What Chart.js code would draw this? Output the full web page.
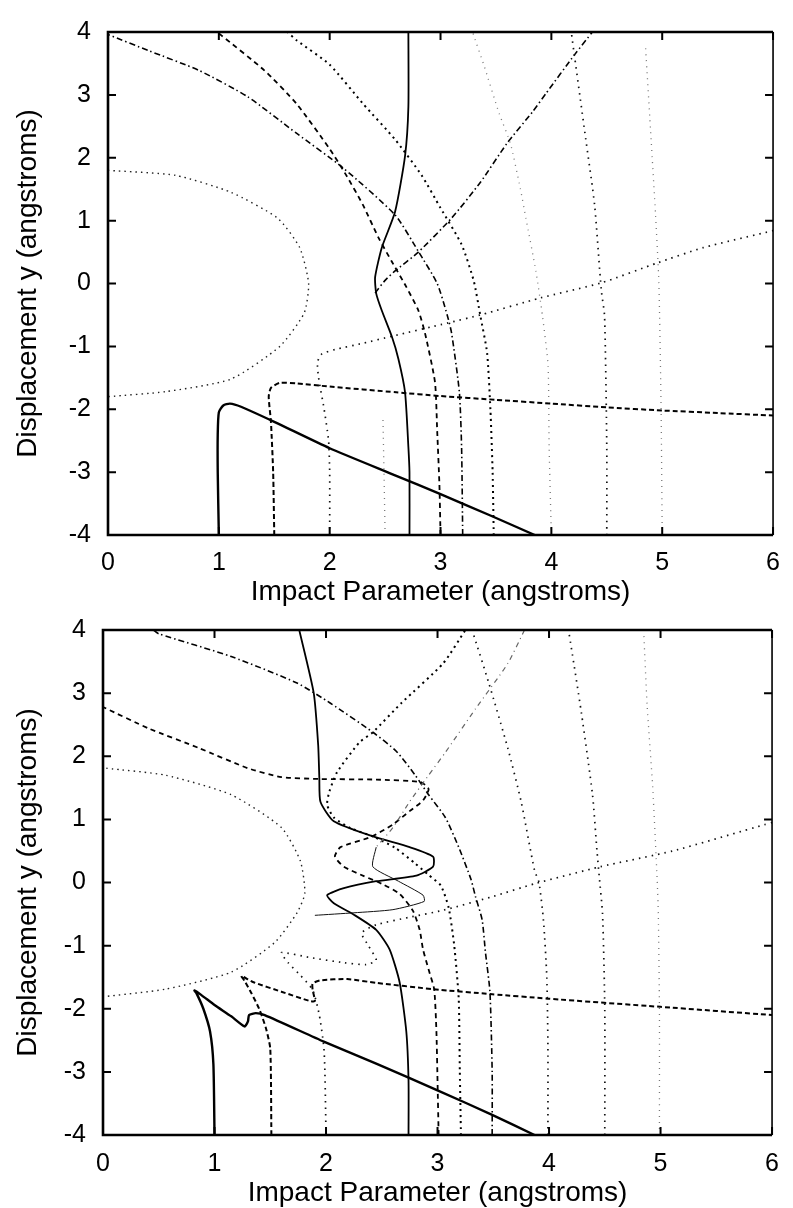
<!DOCTYPE html>
<html>
<head>
<meta charset="utf-8">
<title>Trajectories vs impact parameter</title>
<script src="https://cdn.jsdelivr.net/npm/chart.js@4.4.1/dist/chart.umd.min.js"></script>
<style>
  html, body { margin: 0; padding: 0; background: #fff; overflow: hidden; }
  #wrap { position: relative; width: 793px; height: 1208px; }
  canvas { position: absolute; left: 0; }
  #topChart { top: 0; }
  #bottomChart { top: 598px; }
</style>
</head>
<body>
<div id="wrap">
  <canvas id="topChart" width="793" height="620"></canvas>
  <canvas id="bottomChart" width="793" height="620"></canvas>
</div>
<script>
// axis ticks
const xTicks = [0, 1, 2, 3, 4, 5, 6];
const yTicks = [-4, -3, -2, -1, 0, 1, 2, 3, 4];

// ---- upper panel: trajectories as [x, y] pairs ----
const top_b10 = [[1.0,-4],[0.99,-3],[0.99,-2.4],[1.0,-2.05],[1.04,-1.94],[1.1,-1.91],[1.2,-1.96],[1.5,-2.2],[2.0,-2.62],[2.59,-3.05],[3.0,-3.35],[3.45,-3.69],[3.85,-4]];
const top_b15 = [[1.5,-4],[1.49,-3],[1.47,-2.2],[1.45,-1.8],[1.47,-1.66],[1.55,-1.58],[1.7,-1.59],[2.0,-1.64],[2.6,-1.73],[3.0,-1.79],[3.5,-1.85],[4.0,-1.91],[4.5,-1.97],[5.0,-2.02],[5.5,-2.06],[6.0,-2.1]];
const top_b20 = [[2.0,-4],[2.0,-3],[1.99,-2.5],[1.95,-2.0],[1.9,-1.5],[1.89,-1.25],[1.93,-1.12],[2.05,-1.05],[2.3,-0.95],[2.56,-0.84],[3.06,-0.63],[3.36,-0.5],[3.9,-0.23],[4.45,0.01],[4.96,0.33],[5.37,0.57],[6.0,0.84]];
const top_b25_in = [[2.5,-4],[2.49,-3],[2.48,-2.1]];
const top_b25_out = [[2.41,-0.15],[2.5,0.05],[2.59,0.2],[2.8,0.5],[3.1,1.04],[3.36,1.61],[3.6,2.23],[3.83,2.73],[3.95,3.02],[4.21,3.64],[4.37,4]];
const top_b27 = [[2.72,-4],[2.72,-3],[2.71,-2.6],[2.68,-1.73],[2.62,-1.2],[2.56,-0.84],[2.47,-0.43],[2.42,-0.16],[2.41,0.1],[2.47,0.57],[2.59,1.14],[2.68,2.03],[2.71,2.81],[2.71,4]];
const top_b30 = [[3.0,-4],[2.99,-3.2],[2.97,-2.35],[2.95,-1.57],[2.86,-0.79],[2.8,-0.43],[2.69,-0.05],[2.56,0.35],[2.44,0.73],[2.3,1.25],[2.15,1.72],[2.0,2.14],[1.7,2.86],[1.41,3.39],[1.02,3.95],[0.98,4]];
const top_b32 = [[3.2,-4],[3.19,-2.6],[3.17,-1.73],[3.1,-0.79],[3.06,-0.5],[2.97,0.0],[2.8,0.51],[2.59,1.09],[2.12,1.84],[1.7,2.39],[1.26,2.97],[0.82,3.39],[0.37,3.7],[0,3.96]];
const top_b35 = [[3.48,-4],[3.47,-3],[3.45,-2.0],[3.42,-1.1],[3.36,-0.52],[3.3,0.04],[3.19,0.62],[3.0,1.2],[2.83,1.72],[2.59,2.29],[2.3,2.86],[2.0,3.48],[1.7,3.87],[1.62,4]];
const top_b40 = [[4.0,-4],[3.98,-2.62],[3.97,-1.3],[3.92,-0.52],[3.86,0.2],[3.77,1.04],[3.72,1.51],[3.63,2.23],[3.53,2.7],[3.39,3.48],[3.3,3.94],[3.29,4]];
const top_b45 = [[4.5,-4],[4.5,-2.62],[4.48,-0.52],[4.45,-0.1],[4.39,1.25],[4.31,2.3],[4.19,3.86],[4.18,4]];
const top_b50 = [[5.0,-4],[4.99,-2],[4.97,0],[4.94,1.09],[4.9,2.29],[4.85,3.75]];
const top_ring = [[0,1.8],[0.61,1.72],[1.11,1.45],[1.53,1.04],[1.73,0.57],[1.81,0.0],[1.77,-0.47],[1.55,-1.0],[1.11,-1.52],[0.52,-1.72],[0,-1.8]];

// ---- lower panel ----
const bot_b10 = [[1.0,-4],[0.99,-2.88],[0.96,-2.36],[0.9,-2.0],[0.84,-1.76],[0.82,-1.71],[0.88,-1.78],[1.0,-1.94],[1.15,-2.12],[1.27,-2.28],[1.3,-2.2],[1.31,-2.1],[1.37,-2.07],[1.45,-2.1],[1.98,-2.52],[2.45,-2.87],[3.01,-3.3],[3.49,-3.68],[3.87,-4]];
const bot_b15 = [[1.51,-4],[1.5,-2.63],[1.46,-2.3],[1.4,-2.0],[1.33,-1.75],[1.27,-1.56],[1.24,-1.48],[1.35,-1.58],[1.6,-1.73],[1.86,-1.88],[1.9,-1.88],[1.88,-1.7],[1.88,-1.6],[1.95,-1.55],[2.19,-1.53],[2.45,-1.59],[2.96,-1.69],[3.49,-1.77],[3.99,-1.84],[5.0,-1.97],[6.0,-2.1]];
const bot_b20 = [[2.0,-4],[1.99,-3.0],[1.98,-2.6],[1.94,-2.1],[1.88,-1.7],[1.77,-1.47],[1.66,-1.27],[1.6,-1.11],[1.86,-1.19],[2.16,-1.27],[2.36,-1.3],[2.45,-1.23],[2.38,-1.0],[2.32,-0.8],[2.45,-0.67],[2.75,-0.55],[3.05,-0.44],[3.5,-0.22],[3.87,-0.02],[4.46,0.25],[5.11,0.5],[5.94,0.92],[6.0,0.95]];
const bot_b274 = [[2.74,-4],[2.74,-3.14],[2.72,-2.36],[2.66,-1.58],[2.57,-1.06],[2.45,-0.75],[2.25,-0.51],[2.07,-0.33],[2.01,-0.2],[2.16,-0.09],[2.45,0.02],[2.81,0.11],[2.96,0.25],[2.96,0.41],[2.75,0.56],[2.42,0.73],[2.07,0.97],[1.95,1.28],[1.94,1.66],[1.93,2.17],[1.89,3.0],[1.76,4]];
const bot_thin = [[2.45,0.56],[2.42,0.25],[2.65,0.02],[2.87,-0.2],[2.88,-0.3],[2.6,-0.43],[2.25,-0.48],[1.9,-0.52]];
const bot_fan = [[3.78,4],[3.63,3.47],[3.34,2.75],[3.07,2.06],[2.92,1.7],[2.75,1.28],[2.6,0.87],[2.45,0.56]];
const bot_b30 = [[3.01,-4],[3.0,-3.14],[2.99,-2.36],[2.97,-1.69],[2.92,-1.38],[2.87,-1.06],[2.84,-0.75],[2.78,-0.45],[2.66,-0.18],[2.5,-0.02],[2.34,0.1],[2.16,0.25],[2.08,0.41],[2.13,0.56],[2.4,0.72],[2.6,0.92],[2.75,1.13],[2.87,1.3],[2.92,1.48],[2.85,1.59],[2.45,1.63],[1.94,1.64],[1.6,1.67],[1.3,1.81],[0.86,2.13],[0.41,2.44],[0,2.78]];
const bot_b32 = [[3.21,-4],[3.2,-3.0],[3.19,-1.84],[3.15,-1.0],[3.1,-0.4],[3.03,-0.05],[2.92,0.12],[2.8,0.3],[2.62,0.55],[2.42,0.73],[2.22,0.86],[2.07,1.03],[2.01,1.23],[2.03,1.44],[2.1,1.75],[2.3,2.22],[2.42,2.38],[2.68,2.85],[3.05,3.47],[3.25,4]];
const bot_b35 = [[3.49,-4],[3.49,-3],[3.47,-1.73],[3.43,-1.11],[3.4,-0.59],[3.34,-0.22],[3.3,0.05],[3.19,0.56],[3.07,1.03],[2.92,1.39],[2.8,1.7],[2.63,2.08],[2.42,2.38],[2.04,2.84],[1.74,3.16],[1.15,3.58],[0.5,3.94],[0.45,4]];
const bot_b40 = [[3.99,-4],[3.99,-2.6],[3.98,-1.5],[3.95,-0.6],[3.91,0.0],[3.87,0.19],[3.75,1.28],[3.63,2.13],[3.46,3.16],[3.31,4]];
const bot_b45 = [[4.5,-4],[4.5,-2],[4.48,-0.5],[4.45,0.1],[4.43,0.5],[4.39,1.39],[4.29,2.69],[4.18,3.94],[4.17,4]];
const bot_b50 = [[4.99,-4],[4.99,-2],[4.98,-0.5],[4.97,0.03],[4.93,1.5],[4.88,2.8],[4.85,3.94]];
const bot_ring = [[0.03,1.81],[0.56,1.7],[1.15,1.39],[1.6,0.87],[1.77,0.34],[1.81,-0.17],[1.74,-0.48],[1.54,-0.95],[1.15,-1.42],[0.56,-1.69],[0,-1.81]];

// line styles
const ST = {
  heavy:   { color: '#000', width: 2.4, dash: [] },
  solid:   { color: '#000', width: 1.8, dash: [] },
  thin:    { color: '#111', width: 1.0, dash: [] },
  dashed:  { color: '#000', width: 2.0, dash: [5, 3] },
  dashed2: { color: '#000', width: 1.8, dash: [5, 4] },
  dashDot: { color: '#000', width: 1.6, dash: [6, 3, 1.5, 3] },
  dotDark: { color: '#000', width: 2.0, dash: [2, 4] },
  dotted:  { color: '#111', width: 1.7, dash: [1.5, 5] },
  ring:    { color: '#222', width: 1.4, dash: [1.5, 4] },
  faint:   { color: '#777', width: 1.3, dash: [1, 5] },
  faintDD: { color: '#666', width: 1.2, dash: [5, 4, 1, 4] }
};

const topSeries = [
  [top_ring, ST.ring], [top_b50, ST.faint], [top_b45, ST.dotted], [top_b40, ST.faint],
  [top_b25_in, ST.faint], [top_b25_out, ST.dashDot], [top_b35, ST.dotDark],
  [top_b32, ST.dashDot], [top_b30, ST.dashed2], [top_b27, ST.solid],
  [top_b20, ST.dotted], [top_b15, ST.dashed], [top_b10, ST.heavy]
];
const bottomSeries = [
  [bot_ring, ST.ring], [bot_b50, ST.faint], [bot_b45, ST.dotted], [bot_b40, ST.dotted],
  [bot_fan, ST.faintDD], [bot_thin, ST.thin], [bot_b35, ST.dashDot],
  [bot_b32, ST.dotDark], [bot_b30, ST.dashed2], [bot_b274, ST.solid],
  [bot_b20, ST.dotted], [bot_b15, ST.dashed], [bot_b10, ST.heavy]
];

const FONT = '"Liberation Sans", Arial, Helvetica, sans-serif';

// closed frame with inward tick marks on all four sides
const framePlugin = {
  id: 'frame',
  afterDatasetsDraw(chart) {
    const { ctx, chartArea: a, scales: { x, y } } = chart;
    ctx.save();
    ctx.strokeStyle = '#000';
    ctx.lineWidth = 2.6;
    ctx.beginPath();
    ctx.moveTo(a.right, a.top);
    ctx.lineTo(a.left, a.top);
    ctx.lineTo(a.left, a.bottom);
    ctx.lineTo(a.right, a.bottom);
    ctx.stroke();
    ctx.lineWidth = 1.6;
    ctx.beginPath();
    ctx.moveTo(a.right, a.top);
    ctx.lineTo(a.right, a.bottom);
    ctx.stroke();
    ctx.lineWidth = 2;
    ctx.beginPath();
    x.ticks.forEach(t => {
      const px = x.getPixelForValue(t.value);
      ctx.moveTo(px, a.bottom); ctx.lineTo(px, a.bottom - 8);
      ctx.moveTo(px, a.top); ctx.lineTo(px, a.top + 8);
    });
    y.ticks.forEach(t => {
      const py = y.getPixelForValue(t.value);
      ctx.moveTo(a.left, py); ctx.lineTo(a.left + 8, py);
      ctx.moveTo(a.right, py); ctx.lineTo(a.right - 8, py);
    });
    ctx.stroke();
    ctx.restore();
  }
};

function makeChart(id, series, box) {
  const datasets = series.map(([pts, st]) => ({
    data: pts.map(([x, y]) => ({ x, y })),
    showLine: true,
    borderColor: st.color,
    borderWidth: st.width,
    borderDash: st.dash,
    borderCapStyle: 'butt',
    pointRadius: 0,
    tension: 0.2,
    fill: false
  }));

  return new Chart(document.getElementById(id), {
    type: 'scatter',
    data: { datasets },
    options: {
      responsive: false,
      animation: false,
      devicePixelRatio: 1,
      layout: { padding: { left: 0, top: box.top, right: box.right, bottom: 0 } },
      plugins: { legend: { display: false }, tooltip: { enabled: false } },
      scales: {
        x: {
          type: 'linear', min: 0, max: 6,
          afterBuildTicks: s => { s.ticks = xTicks.map(v => ({ value: v })); },
          afterFit: s => { s.height = box.xHeight; },
          grid: { display: false, drawTicks: false },
          border: { display: false },
          ticks: { color: '#000', padding: box.xPad, font: { family: FONT, size: 25 } },
          title: {
            display: true, text: 'Impact Parameter (angstroms)', color: '#000',
            font: { family: FONT, size: 28 }, padding: { top: 0, bottom: box.titlePad }
          }
        },
        y: {
          type: 'linear', min: -4, max: 4,
          afterBuildTicks: s => { s.ticks = yTicks.map(v => ({ value: v })); },
          afterFit: s => { s.width = box.left; },
          grid: { display: false, drawTicks: false },
          border: { display: false },
          ticks: { color: '#000', padding: 17, font: { family: FONT, size: 25 } },
          title: {
            display: true, text: 'Displacement y (angstroms)', color: '#000',
            font: { family: FONT, size: 28 }, padding: { top: 11, bottom: 0 }
          }
        }
      }
    },
    plugins: [framePlugin]
  });
}

makeChart('topChart', topSeries, { top: 24, right: 9, left: 108, xHeight: 85, xPad: 13, titlePad: 11 });
makeChart('bottomChart', bottomSeries, { top: 25, right: 13, left: 103, xHeight: 83, xPad: 14, titlePad: 8 });
</script>
</body>
</html>
